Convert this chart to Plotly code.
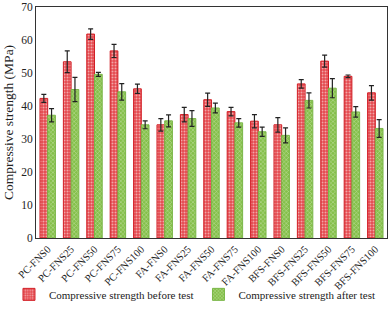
import plotly.graph_objects as go

categories = ["PC-FNS0", "PC-FNS25", "PC-FNS50", "PC-FNS75", "PC-FNS100",
              "FA-FNS0", "FA-FNS25", "FA-FNS50", "FA-FNS75", "FA-FNS100",
              "BFS-FNS0", "BFS-FNS25", "BFS-FNS50", "BFS-FNS75", "BFS-FNS100"]
before = [42.3, 53.4, 61.8, 56.7, 45.2, 34.3, 37.4, 41.9, 38.3, 35.4, 34.3, 46.7, 53.6, 49.0, 44.0]
before_err = [1.2, 3.3, 1.6, 2.0, 1.4, 1.9, 2.2, 2.0, 1.3, 2.0, 2.2, 1.3, 1.8, 0.4, 2.2]
after = [37.2, 45.0, 49.6, 44.3, 34.3, 35.5, 36.2, 39.4, 34.9, 32.2, 31.1, 41.7, 45.4, 38.2, 33.2]
after_err = [2.0, 3.7, 0.6, 2.5, 1.2, 1.8, 2.4, 1.5, 1.3, 1.4, 2.3, 2.3, 2.9, 1.6, 2.7]

font = "Liberation Serif"

fig = go.Figure()
fig.add_trace(go.Bar(
    x=categories, y=before, name="Compressive strength before test",
    marker=dict(color="#e8474c", line=dict(color="#d21f26", width=1),
                pattern=dict(shape=".", fgcolor="white", bgcolor="#e44a4f", size=3, solidity=0.35)),
    error_y=dict(type="data", array=before_err, color="#222222", thickness=1.2, width=2.5),
))
fig.add_trace(go.Bar(
    x=categories, y=after, name="Compressive strength after test",
    marker=dict(color="#8cc152", line=dict(color="#7ab648", width=1),
                pattern=dict(shape="x", fgcolor="white", bgcolor="#85c04a", size=3, solidity=0.3)),
    error_y=dict(type="data", array=after_err, color="#222222", thickness=1.2, width=2.5),
))

fig.update_layout(
    width=388, height=310,
    margin=dict(l=36, r=1, t=7, b=69),
    paper_bgcolor="white", plot_bgcolor="white",
    font=dict(family=font, size=11, color="#222222"),
    barmode="group", bargap=0.34, bargroupgap=0.0,
    showlegend=True,
    legend=dict(orientation="h", x=-0.077, xanchor="left", y=-0.244, yanchor="middle",
                font=dict(family=font, size=11, color="#222222"), itemwidth=30,
                tracegroupgap=0, bgcolor="rgba(0,0,0,0)", borderwidth=0),
)
fig.update_xaxes(
    showline=True, linecolor="#333333", linewidth=1, mirror=True,
    tickangle=-45, ticks="", tickfont=dict(family=font, size=10.5),
)
fig.update_yaxes(
    range=[0, 70], dtick=10, showline=True, linecolor="#333333", linewidth=1, mirror=True,
    showgrid=False, ticks="", zeroline=False,
    tickfont=dict(family=font, size=11.5),
    title=dict(text="Compressive strength (MPa)", font=dict(family=font, size=13.5), standoff=4),
)

fig.write_html("out.html", config={"displayModeBar": False},
               post_script="document.body.style.margin='0';document.body.style.overflow='hidden';")
